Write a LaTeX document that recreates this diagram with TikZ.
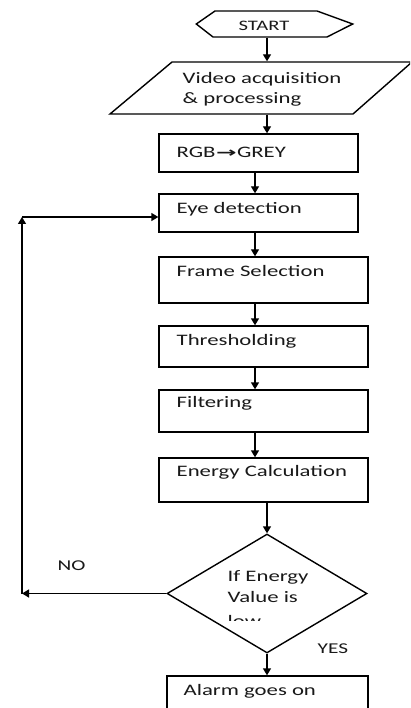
\documentclass[tikz,border=0pt]{standalone}
\usepackage{fontspec}
\setmainfont{Carlito}[FakeStretch=1.42]
\newfontfamily\symfont{DejaVu Sans}
\usetikzlibrary{arrows.meta,shapes.geometric}
\begin{document}
\begin{tikzpicture}[x=1pt,y=-1pt,
  line width=1.4pt,
  arr/.style={-{Triangle[width=8pt,length=7pt]}},
  box/.style={draw, rectangle, inner sep=0pt},
  ghost/.style={inner sep=0pt, draw=none},
  txt/.style={anchor=west, inner sep=0pt, font=\fontsize{16}{20}\selectfont, text=black!90},
  lbl/.style={anchor=west, inner sep=0pt, font=\fontsize{15}{18}\selectfont, text=black!90}]
\useasboundingbox (0,0) rectangle (410,708);
\clip (0,0) rectangle (410,708);
\fill[white] (0,0) rectangle (410,708);

% START hexagon
\node[ghost, minimum width=155, minimum height=26] (start) at (274.5,24) {};
\draw (start.west) -- (215,11) -- (317,11) -- (start.east) -- (327,37) -- (213,37) -- cycle;
\node[font=\fontsize{14.5}{16}\selectfont, inner sep=0pt, text=black!90] (tstart) at (264,26) {START};

% parallelogram
\node[ghost, minimum width=300, minimum height=52] (para) at (260,88) {};
\draw (172,62) -- (412,62) -- (353,114) -- (110,114) -- cycle;
\node[txt, align=left] (tpara) at (182,89) {Video acquisition\\\& processing};

% boxes
\node[box, minimum width=199, minimum height=38] (rgb) at (258.5,153) {};
\node[box, minimum width=199, minimum height=38] (eye) at (258.5,213) {};
\node[box, minimum width=209, minimum height=46] (frame) at (263.5,280) {};
\node[box, minimum width=209, minimum height=41] (thr) at (263.5,346.5) {};
\node[box, minimum width=209, minimum height=42] (filt) at (263.5,411) {};
\node[box, minimum width=209, minimum height=44] (energy) at (263.5,480) {};
\node[diamond, draw, inner sep=0pt, minimum width=200, minimum height=119] (dec) at (267,593.5) {};
\node[box, minimum width=201, minimum height=60] (alarm) at (267.5,706) {};

% texts
\node[txt] (trgb) at (176,152) {RGB{\symfont\bfseries\fontsize{14}{15}\selectfont\kern0.5pt\scalebox{1.75}[1]{→}\kern0.5pt}GREY};
\node[txt] (teye) at (176,209) {Eye detection};
\node[txt] (tframe) at (176,271) {Frame Selection};
\node[txt] (tthr) at (176,341) {Thresholding};
\node[txt] (tfilt) at (176,403) {Filtering};
\node[txt] (tenergy) at (176,472) {Energy Calculation};
\node[txt] (talarm) at (183,691) {Alarm goes on};
\node[txt] (tdec1) at (227,577) {If Energy};
\node[txt] (tdec2) at (227,597) {Value is};
\begin{scope}
\clip (200,608) rectangle (300,620);
\node[txt] (tdec3) at (227,621) {low};
\end{scope}
\node[lbl] (tno) at (57,566) {NO};
\node[lbl] (tyes) at (317,649) {YES};

% connectors
\coordinate (spineA) at (267,0);
\coordinate (spineB) at (255,0);
\coordinate (loopx) at (22,0);
\coordinate (looptop) at (22,217);
\coordinate (loopbot) at (dec.west -| loopx);
\draw[arr] (start.south -| spineA) -- (para.north -| spineA);
\draw[arr] (para.south -| spineA) -- (rgb.north -| spineA);
\draw[arr] (rgb.south -| spineB) -- (eye.north -| spineB);
\draw[arr] (eye.south -| spineB) -- (frame.north -| spineB);
\draw[arr] (frame.south -| spineB) -- (thr.north -| spineB);
\draw[arr] (thr.south -| spineB) -- (filt.north -| spineB);
\draw[arr] (filt.south -| spineB) -- (energy.north -| spineB);
\draw[arr] (energy.south -| dec.north) -- (dec.north);
\draw[arr] (dec.south) -- (alarm.north -| dec.south);
\draw[arr] (dec.west) -- (loopbot);
\draw[arr] (loopbot) -- (looptop);
\draw[arr] (looptop) -- (looptop -| eye.west);
\end{tikzpicture}
\end{document}
